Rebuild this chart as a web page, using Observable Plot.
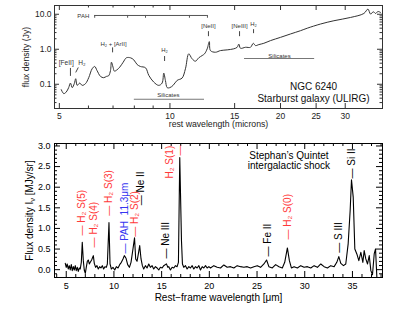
<!DOCTYPE html>
<html><head><meta charset="utf-8">
<script src="https://cdn.jsdelivr.net/npm/d3@7"></script>
<script src="https://cdn.jsdelivr.net/npm/@observablehq/plot@0.6"></script>
<style>
body{margin:0;background:#fff;}
#wrap{position:relative;width:415px;height:312px;overflow:hidden;background:#fff;}
#top,#bot{position:absolute;left:0;}
#top{top:0px;} #bot{top:130px;}
</style></head><body>
<div id="wrap"><div id="top"></div><div id="bot"></div></div>
<script>
// ---------- Top panel: NGC 6240 spectrum ----------
const topWave = [5.06,5.14,5.22,5.30,5.36,5.42,5.49,5.54,5.59,5.68,5.77,5.89,6.01,6.14,6.24,6.33,6.47,6.60,6.72,6.81,6.89,6.93,7.00,7.06,7.18,7.30,7.46,7.61,7.81,7.97,8.14,8.31,8.58,8.76,9.03,9.32,9.52,9.62,9.72,9.83,9.99,10.20,10.46,10.79,11.02,11.25,11.49,11.73,11.98,12.24,12.42,12.63,12.80,12.89,13.30,13.73,14.32,14.92,15.24,15.40,15.56,16.06,16.57,16.86,17.10,17.46,18.01,18.79,20.0,21.3,22.68,23.65,25.71,27.95,31.03,33.73,34.59,35.17,35.78,36.30,36.83,37.45];
const topFlux = [0.070,0.054,0.060,0.080,0.108,0.080,0.104,0.144,0.093,0.108,0.093,0.104,0.154,0.277,0.322,0.248,0.168,0.154,0.168,0.175,0.248,0.427,0.308,0.237,0.260,0.308,0.427,0.570,0.570,0.500,0.367,0.322,0.296,0.179,0.116,0.093,0.108,0.208,0.129,0.080,0.080,0.093,0.129,0.150,0.277,0.740,0.534,0.456,0.570,0.662,0.740,1.03,1.655,0.918,0.822,0.918,0.961,1.03,1.14,1.405,1.067,1.14,1.14,1.48,1.274,1.36,1.48,1.77,2.19,2.74,3.40,4.0,5.27,6.54,8.11,10.54,14.05,10.13,11.78,10.54,12.01,11.25];
const topXTicks = [5,10,15,20,25,30];
const topXMinor = [6,7,8,9];
const topYTicks = [0.1,1,10];
const topYMinor = [0.03,0.04,0.05,0.06,0.07,0.08,0.09,0.2,0.3,0.4,0.5,0.6,0.7,0.8,0.9,2,3,4,5,6,7,8,9];
// feature labels
const topLabelText = ["[FeII]","H₂","H₂ + [ArII]","H₂","[NeII]","[NeIII]","H₂","PAH"];
const topLabelX = [5.22,5.76,7.02,9.67,12.73,15.47,16.89,5.81];
const topLabelY = [0.419,0.419,1.45,0.918,4.72,4.72,5.37,9.05];
const topTickX = [5.36,6.98,9.67,12.73,15.47,16.89];
const topTickY1 = [0.283,1.096,0.62,3.18,3.18,3.63];
const topTickY2 = [0.168,0.79,0.447,2.29,2.29,2.79];
const h2SlantX = [5.54,5.63], h2SlantY = [0.218,0.302];
const pahBand = [6.24,12.65], pahBandY = 9.23, pahTickEnd = 7.69;
const pahFeatures = [6.24,7.67,8.58,11.3,12.65];
const silText = ["Silicates","Silicates"];
const silX1 = [8.0,15.96], silX2 = [12.42,24.77], silY = [0.0373,0.544];
const silTextX = [9.9,19.87], silTextY = [0.0484,0.641];
const topTitle = ["NGC 6240","Starburst galaxy (ULIRG)"];
const topTitleX = [24.6,24.6], topTitleY = [0.087,0.0373];

// ---------- Bottom panel: Stephan's Quintet ----------
const botWave = [4.90,5.00,5.10,5.21,5.32,5.42,5.53,5.63,5.74,5.84,5.95,6.05,6.16,6.26,6.37,6.47,6.58,6.68,6.79,6.89,7.00,7.10,7.21,7.31,7.42,7.52,7.66,7.84,7.94,8.08,8.22,8.36,8.50,8.64,8.78,8.92,9.06,9.20,9.31,9.48,9.59,9.73,9.90,10.08,10.25,10.43,10.60,10.78,10.95,11.09,11.27,11.44,11.62,11.79,11.97,12.16,12.28,12.42,12.56,12.70,12.84,12.98,13.12,13.30,13.47,13.65,13.82,14.00,14.17,14.35,14.52,14.70,14.87,15.05,15.22,15.50,15.65,15.75,15.92,16.10,16.27,16.45,16.62,16.76,16.90,17.08,17.18,17.32,17.50,17.67,17.85,18.02,18.20,18.37,18.55,18.72,18.90,19.07,19.25,19.42,19.60,19.77,19.95,20.12,20.47,20.82,21.17,21.52,21.87,22.22,22.57,22.92,23.27,23.62,23.97,24.32,24.67,25.02,25.37,25.72,26.00,26.24,26.60,26.95,27.30,27.65,27.90,28.18,28.39,28.60,28.88,29.23,29.58,29.93,30.28,30.63,30.98,31.33,31.68,32.03,32.38,32.73,33.08,33.36,33.57,33.78,34.06,34.30,34.55,34.76,34.90,35.08,35.25,35.46,35.67,35.88,36.09,36.23,36.40,36.58,36.76,36.93,37.10,37.28,37.42,37.56];
const botFlux = [0.154,0.057,0.138,0.016,0.097,-0.008,0.122,-0.024,0.073,-0.008,0.097,-0.024,0.057,-0.041,0.041,0.016,0.178,0.665,0.219,-0.008,-0.089,0.057,0.203,0.235,0.138,0.178,0.235,0.34,0.154,0.057,0.097,0.016,0.073,0.041,0.097,0.016,0.073,0.057,0.138,1.14,0.138,0.016,0.057,-0.008,0.073,0.041,0.122,0.178,0.26,0.34,0.276,0.122,0.057,0.178,0.462,0.77,0.26,0.203,0.381,0.584,0.26,0.097,0.016,0.097,0.041,0.138,0.057,0.097,0.016,0.073,0.041,-0.008,0.057,0.041,0.097,0.14,0.057,0.073,-0.008,0.057,0.041,0.097,0.073,0.178,2.72,0.70,0.138,0.057,0.097,0.016,0.073,0.041,0.097,0.016,0.073,0.041,0.097,-0.008,0.073,0.041,0.097,0.041,0.073,0.041,0.097,0.057,0.041,0.114,0.057,0.073,0.041,0.097,0.073,0.057,0.073,0.041,0.073,0.097,0.057,0.138,0.235,0.073,0.041,0.122,0.073,0.041,0.178,0.527,0.219,0.041,0.073,0.041,0.097,0.057,0.073,0.041,0.097,0.057,0.138,0.073,0.041,0.097,0.073,0.178,0.316,0.154,0.097,0.138,0.624,1.435,2.18,1.76,0.503,0.381,0.219,0.422,0.178,0.462,0.26,0.138,0.34,-0.024,-0.122,0.381,0.503,-0.187];
const botXTicks = [5,10,15,20,25,30,35];
const botXMinor = d3.range(4,39).filter(v => v % 5 !== 0);
const botYTicks = [0,0.5,1,1.5,2,2.5,3];
const botYMinor = d3.range(-1,31).map(v => v/10).filter(v => Math.round(v*10) % 5 !== 0);
const lineText = ["— H₂ S(5)","— H₂ S(4)","— H₂ S(3)","— PAH  11.3μm","— H₂ S(2)","— Ne II","— Ne III","H₂ S(1)","—","— Fe II","— H₂ S(0)","— S III","— Si II"];
const lineKind = ["H2","H2","H2","PAH","H2","ion","ion","H2","H2","ion","H2","ion","ion"];
const lineX = [6.68,7.87,9.44,11.09,12.21,12.77,15.40,15.87,16.90,26.08,28.24,33.60,34.90];
const lineY = [0.83,0.54,1.31,0.39,0.80,1.56,0.27,2.21,2.77,0.32,0.73,0.41,2.21];
const botTitle = ["Stephan’s Quintet","intergalactic shock"];
const botTitleX = [28.34,28.34], botTitleY = [2.77,2.51];

const FONT = "'Liberation Sans', Arial, Helvetica, sans-serif";
const W = 415;
const rows = (xs, ys) => xs.map((x, i) => ({x, y: ys[i]}));

// ---------- top plot ----------
{
  const H = 130, mT = 5, mB = 22, mL = 54, mR = 33;
  const iH = H - mT - mB, iW = W - mL - mR;
  const ink = "#333";
  const p = Plot.plot({
    width: W, height: H, marginTop: mT, marginBottom: mB, marginLeft: mL, marginRight: mR,
    style: {fontFamily: FONT, background: "transparent", color: "#222"},
    x: {type: "log", domain: [4.85, 37.9], axis: null},
    y: {type: "log", domain: [0.0203, 17.8], axis: null},
    marks: [
      Plot.ruleX(topXTicks, {x: d => d, insetTop: iH - 5, stroke: ink}),
      Plot.ruleX(topXTicks, {x: d => d, insetBottom: iH - 5, stroke: ink}),
      Plot.ruleX(topXMinor, {x: d => d, insetTop: iH - 2.5, stroke: ink}),
      Plot.ruleX(topXMinor, {x: d => d, insetBottom: iH - 2.5, stroke: ink}),
      Plot.ruleY(topYTicks, {y: d => d, insetRight: iW - 5, stroke: ink}),
      Plot.ruleY(topYTicks, {y: d => d, insetLeft: iW - 5, stroke: ink}),
      Plot.ruleY(topYMinor, {y: d => d, insetRight: iW - 2.5, stroke: ink}),
      Plot.ruleY(topYMinor, {y: d => d, insetLeft: iW - 2.5, stroke: ink}),
      Plot.frame({stroke: ink}),
      Plot.text(topXTicks, {x: d => d, frameAnchor: "bottom", lineAnchor: "middle", dy: 7.5, text: d => String(d), fontSize: 8.5, fill: "#222"}),
      Plot.text(topYTicks, {y: d => d, frameAnchor: "left", dx: -3, textAnchor: "end", text: d => d.toFixed(1), fontSize: 8.5, fill: "#222"}),
      Plot.text(["rest wavelength (microns)"], {frameAnchor: "bottom", lineAnchor: "middle", textAnchor: "middle", dy: 16, fontSize: 8.7, fill: "#222"}),
      Plot.text(["flux density (Jy)"], {frameAnchor: "left", textAnchor: "middle", dx: -28, rotate: -90, fontSize: 8.7, fill: "#222"}),
      // PAH bracket
      Plot.ruleY([pahBandY], {y: d => d, x1: pahBand[0], x2: pahBand[1], stroke: "#555"}),
      Plot.ruleX(pahFeatures, {x: d => d, y1: pahBandY, y2: pahTickEnd, stroke: "#555"}),
      // silicate bands
      Plot.ruleY(silY, {y: d => d, x1: (d, i) => silX1[i], x2: (d, i) => silX2[i], stroke: "#777", strokeWidth: 1.2}),
      Plot.text(silText, {x: (d, i) => silTextX[i], y: (d, i) => silTextY[i], text: d => d, fontSize: 6, fill: "#333"}),
      // line markers
      Plot.ruleX(topTickX, {x: d => d, y1: (d, i) => topTickY1[i], y2: (d, i) => topTickY2[i], stroke: "#444"}),
      Plot.link([0], {x1: h2SlantX[0], y1: h2SlantY[0], x2: h2SlantX[1], y2: h2SlantY[1], stroke: "#444"}),
      Plot.text(topLabelText, {x: (d, i) => topLabelX[i], y: (d, i) => topLabelY[i], text: d => d, fontSize: (d, i) => i < 2 ? 6.6 : 6, fill: "#333"}),
      Plot.line(rows(topWave, topFlux), {x: "x", y: "y", stroke: "#333", strokeWidth: 1, curve: "catmull-rom"}),
      Plot.text(topTitle, {x: (d, i) => topTitleX[i], y: (d, i) => topTitleY[i], text: d => d, fontSize: 10, fill: "#111"})
    ]
  });
  document.getElementById("top").appendChild(p);
}

// ---------- bottom plot ----------
{
  const H = 182, mT = 13, mB = 35, mL = 54, mR = 33;
  const iH = H - mT - mB, iW = W - mL - mR;
  const ink = "#000";
  const yLabel = "Flux density Iν [MJy/sr]";
  const p = Plot.plot({
    width: W, height: H, marginTop: mT, marginBottom: mB, marginLeft: mL, marginRight: mR,
    style: {fontFamily: FONT, background: "transparent", color: "#000"},
    x: {domain: [3.77, 38.15], axis: null},
    y: {domain: [-0.19, 3.06], axis: null},
    color: {domain: ["H2", "PAH", "ion"], range: ["#ff3a3a", "#3636f0", "#000000"]},
    marks: [
      Plot.ruleX(botXTicks, {x: d => d, insetTop: iH - 6, stroke: ink}),
      Plot.ruleX(botXTicks, {x: d => d, insetBottom: iH - 6, stroke: ink}),
      Plot.ruleX(botXMinor, {x: d => d, insetTop: iH - 3, stroke: ink}),
      Plot.ruleX(botXMinor, {x: d => d, insetBottom: iH - 3, stroke: ink}),
      Plot.ruleY(botYTicks, {y: d => d, insetRight: iW - 6, stroke: ink}),
      Plot.ruleY(botYTicks, {y: d => d, insetLeft: iW - 6, stroke: ink}),
      Plot.ruleY(botYMinor, {y: d => d, insetRight: iW - 3, stroke: ink}),
      Plot.ruleY(botYMinor, {y: d => d, insetLeft: iW - 3, stroke: ink}),
      Plot.frame({stroke: ink}),
      Plot.text(botXTicks, {x: d => d, frameAnchor: "bottom", lineAnchor: "middle", dy: 8.5, text: d => String(d), fontSize: 9}),
      Plot.text(botYTicks, {y: d => d, frameAnchor: "left", dx: -4, textAnchor: "end", text: d => d.toFixed(1), fontSize: 9}),
      Plot.text(["Rest−frame wavelength [μm]"], {frameAnchor: "bottom", lineAnchor: "middle", textAnchor: "middle", dy: 20, fontSize: 10}),
      Plot.text([yLabel], {frameAnchor: "left", textAnchor: "middle", dx: -25, rotate: -90, fontSize: 10}),
      Plot.line(rows(botWave, botFlux), {x: "x", y: "y", stroke: "#000", strokeWidth: 1.1}),
      Plot.text(lineText, {x: (d, i) => lineX[i], y: (d, i) => lineY[i], text: d => d, fill: (d, i) => lineKind[i], rotate: -90, textAnchor: "start", fontSize: 10}),
      Plot.text(botTitle, {x: (d, i) => botTitleX[i], y: (d, i) => botTitleY[i], text: d => d, fontSize: 10})
    ]
  });
  document.getElementById("bot").appendChild(p);
  // subscript nu in the y-axis label
  d3.select(p).selectAll("text").filter(function () { return this.textContent === yLabel; }).each(function () {
    const t = d3.select(this);
    t.text(null);
    t.append("tspan").text("Flux density I");
    t.append("tspan").attr("dy", 2.5).attr("font-size", 7.5).text("ν");
    t.append("tspan").attr("dy", -2.5).text(" [MJy/sr]");
  });
}
</script>
</body></html>
